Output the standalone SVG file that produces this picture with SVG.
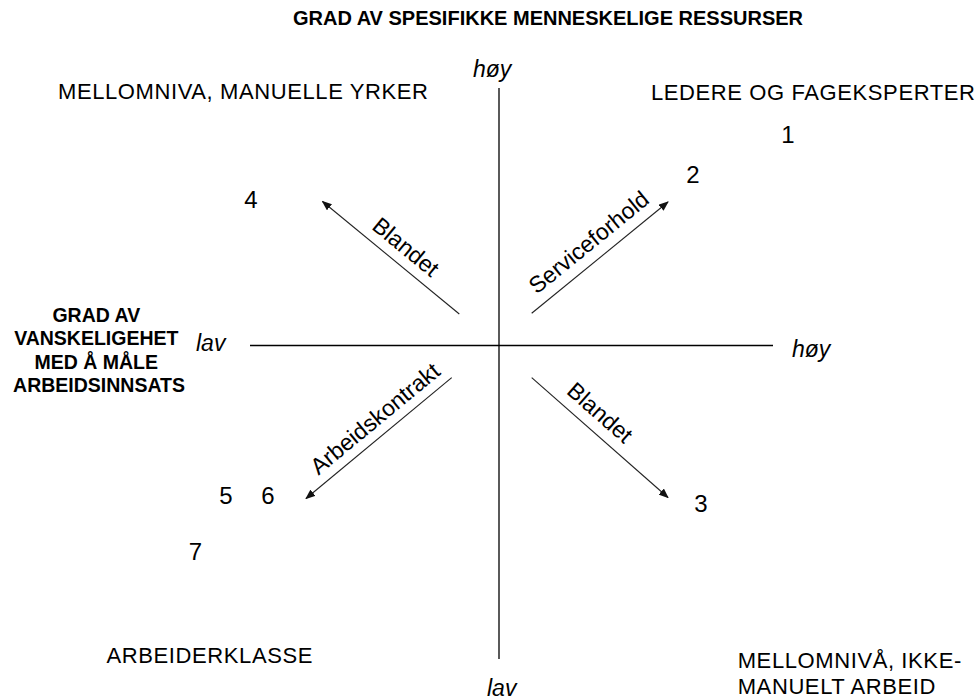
<svg xmlns="http://www.w3.org/2000/svg" width="979" height="700" viewBox="0 0 979 700">
  <style>
    .t { font-family: "Liberation Sans", Arial, sans-serif; fill: #000; }
    .title { font-size: 20px; font-weight: bold; }
    .head { font-size: 22px; letter-spacing: 0.6px; }
    .side { font-size: 19.5px; font-weight: bold; }
    .ax { font-size: 23px; font-style: italic; }
    .num { font-size: 24px; text-anchor: middle; }
    .lbl { font-size: 23px; text-anchor: middle; }
    .axis { stroke: #000; stroke-width: 1.3; fill: none; }
    .arr { stroke: #222; stroke-width: 1.1; fill: none; marker-end: url(#ah); }
  </style>
  <defs>
    <marker id="ah" markerWidth="10" markerHeight="8" refX="9" refY="4" orient="auto" markerUnits="userSpaceOnUse">
      <path d="M0,0 L10,4 L0,8 Z" fill="#111"/>
    </marker>
  </defs>
  <rect width="979" height="700" fill="#fff"/>

  <g id="axes">
    <line class="axis" x1="499" y1="88" x2="499" y2="659"/>
    <line class="axis" x1="250" y1="345.5" x2="773" y2="345.5"/>
  </g>

  <g id="connectors">
    <line class="arr" x1="531.7" y1="313.3" x2="668" y2="202"/>
    <line class="arr" x1="459.3" y1="314" x2="322.5" y2="201.5"/>
    <line class="arr" x1="531.7" y1="377.7" x2="668" y2="497.5"/>
    <line class="arr" x1="451.7" y1="377.7" x2="306" y2="498.5"/>
    <text class="t lbl" transform="translate(593.8,248.4) rotate(-39.2)">Serviceforhold</text>
    <text class="t lbl" transform="translate(400.9,253.1) rotate(39.4)">Blandet</text>
    <text class="t lbl" transform="translate(594.8,418.5) rotate(41.3)">Blandet</text>
    <text class="t lbl" transform="translate(380,424.7) rotate(-39.6)">Arbeidskontrakt</text>
  </g>

  <g id="title">
    <text class="t title" x="548" y="25" text-anchor="middle">GRAD AV SPESIFIKKE MENNESKELIGE RESSURSER</text>
  </g>
  <g id="axis-labels">
    <text class="t ax" x="473" y="77">høy</text>
    <text class="t ax" x="792" y="357">høy</text>
    <text class="t ax" x="196" y="351">lav</text>
    <text class="t ax" x="487" y="696">lav</text>
  </g>
  <g id="side-label">
    <text class="t side" text-anchor="middle">
      <tspan x="99" y="321.7">GRAD AV</tspan>
      <tspan x="99" y="345.2">VANSKELIGEHET</tspan>
      <tspan x="99" y="368.7">MED Å MÅLE</tspan>
      <tspan x="99" y="392.2">ARBEIDSINNSATS</tspan>
    </text>
  </g>
  <g id="q-top-left">
    <text class="t head" x="58" y="99">MELLOMNIVA, MANUELLE YRKER</text>
  </g>
  <g id="q-top-right">
    <text class="t head" x="651" y="100">LEDERE OG FAGEKSPERTER</text>
  </g>
  <g id="q-bottom-left">
    <text class="t head" x="106.5" y="662.7">ARBEIDERKLASSE</text>
  </g>
  <g id="q-bottom-right">
    <text class="t head">
      <tspan x="737.7" y="668.3">MELLOMNIVÅ, IKKE-</tspan>
      <tspan x="737.7" y="694">MANUELT ARBEID</tspan>
    </text>
  </g>
  <g id="numbers">
    <text class="t num" x="788" y="143">1</text>
    <text class="t num" x="693" y="183">2</text>
    <text class="t num" x="701" y="512">3</text>
    <text class="t num" x="251" y="208">4</text>
    <text class="t num" x="226" y="504">5</text>
    <text class="t num" x="268" y="504">6</text>
    <text class="t num" x="195.5" y="560">7</text>
  </g>
</svg>
